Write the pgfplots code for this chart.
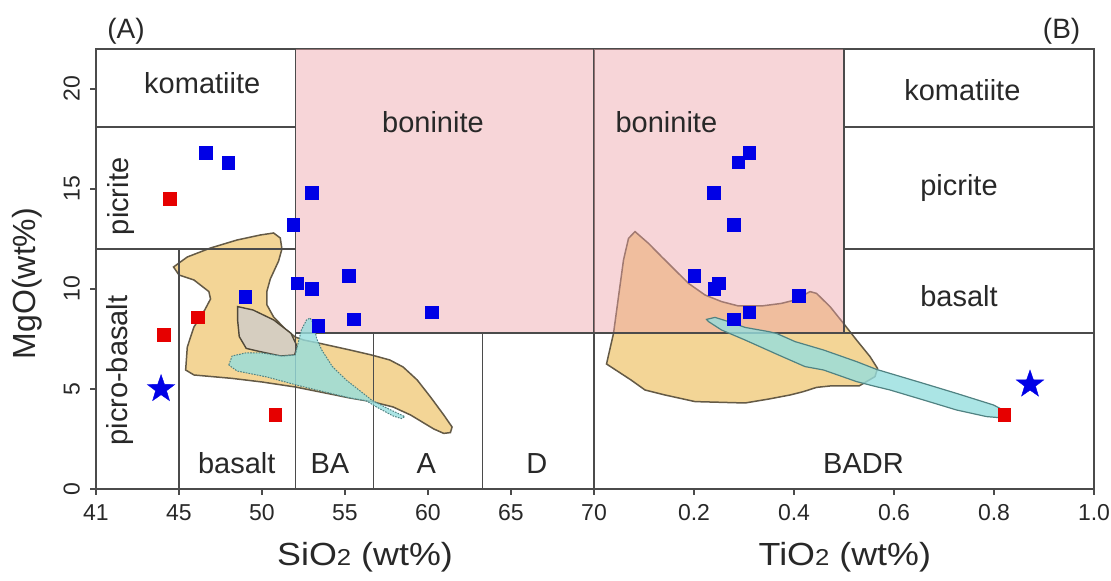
\documentclass[border=0pt]{standalone}
\usepackage{fontspec}
\setmainfont{Liberation Sans}
\usepackage{graphicx}
\usepackage{pgfplots}
\pgfplotsset{compat=1.18}
\definecolor{pinkb}{RGB}{237,162,168}
\definecolor{orf}{RGB}{243,213,150}
\definecolor{ore}{RGB}{100,90,70}
\definecolor{cyf}{RGB}{150,222,222}
\definecolor{cye}{RGB}{80,130,130}
\definecolor{grf}{RGB}{214,206,192}
\definecolor{mblue}{RGB}{0,0,230}
\definecolor{mred}{RGB}{230,0,0}
\definecolor{lin}{RGB}{75,75,75}
\definecolor{txt}{RGB}{40,40,40}

\pgfdeclareplotmark{fstar}{%
  \pgfpathmoveto{\pgfpointpolar{90}{\pgfplotmarksize}}%
  \pgfpathlineto{\pgfpointpolar{126}{0.4\pgfplotmarksize}}%
  \pgfpathlineto{\pgfpointpolar{162}{\pgfplotmarksize}}%
  \pgfpathlineto{\pgfpointpolar{198}{0.4\pgfplotmarksize}}%
  \pgfpathlineto{\pgfpointpolar{234}{\pgfplotmarksize}}%
  \pgfpathlineto{\pgfpointpolar{270}{0.4\pgfplotmarksize}}%
  \pgfpathlineto{\pgfpointpolar{306}{\pgfplotmarksize}}%
  \pgfpathlineto{\pgfpointpolar{342}{0.4\pgfplotmarksize}}%
  \pgfpathlineto{\pgfpointpolar{18}{\pgfplotmarksize}}%
  \pgfpathlineto{\pgfpointpolar{54}{0.4\pgfplotmarksize}}%
  \pgfpathclose
  \pgfusepathqfillstroke}

\tikzset{reg/.style={font=\fontsize{14.5}{16}\selectfont, text=txt, anchor=base}}
\pgfplotsset{
  panel/.style={scale only axis, height=220pt, ymin=0, ymax=22,
    axis line style={lin, line width=0.7pt},
    tick style={lin, line width=0.7pt},
    tick align=outside, major tick length=3pt,
    xtick pos=bottom,
    ticklabel style={font=\fontsize{11.5}{13}\selectfont, text=txt},
    xticklabel shift=1.2pt},
  regline/.style={lin, line width=0.7pt, no markers, forget plot},
  bsq/.style={only marks, mark=square*, mark size=3.1pt, mark options={fill=mblue, draw=mblue, line width=0pt}},
  rsq/.style={only marks, mark=square*, mark size=3.2pt, mark options={fill=mred, draw=mred, line width=0pt}},
  bstar/.style={only marks, mark=fstar, mark size=7.2pt, mark options={fill=mblue, draw=mblue, line width=0.2pt}},
}

\begin{document}
\begin{tikzpicture}
\useasboundingbox (0,0) rectangle (555.5pt,290.5pt);

% ---------------- (A) SiO2 panel ----------------
\begin{axis}[panel, at={(48pt,46pt)}, anchor=south west, width=249pt,
  xmin=40, xmax=70,
  xtick={40,45,50,55,60,65,70}, xticklabels={41,45,50,55,60,65,70},
  ytick={0,5,10,15,20}, yticklabels={0,5,10,15,20}, ytick pos=left,
  yticklabel style={rotate=90, anchor=south}, yticklabel shift=1.5pt]

% orange field
\addplot[fill=orf, draw=ore, line width=0.75pt] coordinates {
(44.67,11.1)(45.5,11.6)(46.9,12.05)(48.5,12.45)(49.9,12.7)(50.7,12.8)(51.1,12.55)
(51.2,12.0)(51.0,11.4)(50.5,10.5)(50.3,9.9)(50.3,9.2)(50.7,8.6)(51.4,8.0)(52.0,7.6)
(52.5,7.45)(53.5,7.28)(55.3,6.95)(56.6,6.7)(57.7,6.45)(58.5,6.1)(59.35,5.45)
(60.15,4.6)(60.95,3.7)(61.45,3.1)(61.35,2.82)(60.95,2.78)(60.35,3.0)(58.95,3.7)
(57.9,4.1)(56.6,4.37)(55.3,4.55)(53.5,4.85)(52.0,5.1)(50.0,5.35)(48.2,5.53)
(45.9,5.7)(45.4,5.95)(45.5,7.1)(45.9,8.1)(46.55,8.95)(46.9,9.5)(46.8,9.87)
(45.9,10.45)(45.0,10.7)(44.67,11.1)} -- cycle;

% grey field
\addplot[fill=grf, draw=ore!80!black, line width=0.7pt] coordinates {
(48.53,9.12)(49.46,8.95)(50.71,8.45)(51.75,7.78)(52.12,7.12)(51.96,6.7)(51.13,6.65)
(49.88,6.87)(49.05,7.03)(48.63,7.62)(48.53,8.45)} -- cycle;

% boninite field
\addplot[fill=pinkb, fill opacity=0.45, draw=none] coordinates {
(52,7.8)(70,7.8)(70,22)(52,22)} -- cycle;

% classification lines
\addplot[regline] coordinates {(52,0)(52,22)};
\addplot[regline] coordinates {(40,18.1)(52,18.1)};
\addplot[regline] coordinates {(40,12)(52,12)};
\addplot[regline] coordinates {(45,0)(45,12)};
\addplot[regline] coordinates {(52,7.8)(70,7.8)};
\addplot[regline] coordinates {(56.7,0)(56.7,7.8)};
\addplot[regline] coordinates {(63.3,0)(63.3,7.8)};

% samples
\addplot[bsq] coordinates {(46.62,16.8)(47.97,16.3)(53.0,14.8)(51.88,13.2)(55.24,10.65)
(52.13,10.28)(53.02,10.0)(48.99,9.6)(53.42,8.15)(55.55,8.48)(60.23,8.82)};
\addplot[rsq] coordinates {(44.48,14.5)(46.14,8.57)(44.12,7.7)(50.81,3.7)};

% cyan field
\addplot[fill=cyf, fill opacity=0.8, draw=cye, line width=0.5pt, dash pattern=on 0.8pt off 0.6pt] coordinates {
(48.0,6.2)(48.2,6.65)(49.0,6.8)(50.0,6.8)(51.2,6.65)(52.0,6.7)(52.37,7.95)(52.68,8.45)
(52.9,8.55)(53.1,8.28)(53.3,7.5)(53.6,6.95)(54.24,6.12)(55.07,5.45)(56.1,4.78)(56.6,4.45)
(57.56,4.03)(58.6,3.62)(58.4,3.52)(57.9,3.65)(56.9,4.1)(56.3,4.4)(55.3,4.55)(52.3,5.15)
(50.3,5.6)(48.5,5.9)(48.0,6.2)} -- cycle;

\addplot[bstar] coordinates {(43.92,5.0)};

\node[reg] at (axis cs:46.4,19.75) {komatiite};
\node[reg] at (axis cs:60.3,17.8) {boninite};
\node[reg, rotate=90] at (axis cs:41.98,14.63) {picrite};
\node[reg, rotate=90] at (axis cs:41.87,5.92) {picro-basalt};
\node[reg] at (axis cs:48.48,0.75) {basalt};
\node[reg] at (axis cs:54.09,0.75) {BA};
\node[reg] at (axis cs:59.9,0.75) {A};
\node[reg] at (axis cs:66.55,0.75) {D};
\end{axis}

% ---------------- (B) TiO2 panel ----------------
\begin{axis}[panel, at={(297pt,46pt)}, anchor=south west, width=250pt,
  xmin=0, xmax=1,
  xtick={0.2,0.4,0.6,0.8,1.0}, xticklabels={0.2,0.4,0.6,0.8,1.0},
  ytick=\empty]

\addplot[fill=orf, draw=ore, line width=0.75pt] coordinates {
(0.082,12.87)(0.109,12.28)(0.135,11.62)(0.162,10.95)(0.189,10.28)(0.222,9.7)(0.255,9.37)
(0.289,9.15)(0.335,9.15)(0.375,9.28)(0.402,9.45)(0.432,9.87)(0.445,9.78)(0.472,9.12)
(0.499,8.28)(0.525,7.45)(0.552,6.62)(0.567,6.03)(0.562,5.62)(0.53,5.15)(0.472,5.15)
(0.445,5.08)(0.419,4.87)(0.392,4.7)(0.35,4.5)(0.302,4.3)(0.202,4.37)(0.142,4.7)
(0.102,4.95)(0.074,5.45)(0.025,6.25)(0.039,7.78)(0.049,9.62)(0.059,11.45)(0.069,12.53)} -- cycle;

\addplot[fill=pinkb, fill opacity=0.45, draw=none] coordinates {
(0,7.8)(0.5,7.8)(0.5,22)(0,22)} -- cycle;

\addplot[regline] coordinates {(0.5,7.8)(0.5,22)};
\addplot[regline] coordinates {(0.5,18.1)(1,18.1)};
\addplot[regline] coordinates {(0.5,12)(1,12)};
\addplot[regline] coordinates {(0,7.8)(1,7.8)};

\addplot[bsq] coordinates {(0.311,16.8)(0.289,16.33)(0.240,14.8)(0.280,13.2)(0.201,10.65)
(0.250,10.28)(0.241,10.0)(0.410,9.65)(0.311,8.82)(0.280,8.48)};
\addplot[rsq] coordinates {(0.821,3.7)};

\addplot[fill=cyf, fill opacity=0.8, draw=cye, line width=0.6pt] coordinates {
(0.225,8.48)(0.242,8.58)(0.269,8.37)(0.302,8.08)(0.349,7.87)(0.365,7.78)(0.402,7.37)
(0.459,6.95)(0.525,6.37)(0.565,5.98)(0.659,5.28)(0.725,4.78)(0.799,4.2)(0.812,4.03)
(0.819,3.78)(0.809,3.57)(0.785,3.62)(0.725,3.95)(0.659,4.45)(0.592,4.95)(0.559,5.15)
(0.525,5.37)(0.459,5.95)(0.422,6.12)(0.369,6.7)(0.302,7.45)(0.255,7.95)(0.229,8.37)} -- cycle;

\addplot[bstar] coordinates {(0.872,5.23)};

\node[reg] at (axis cs:0.1447,17.82) {boninite};
\node[reg] at (axis cs:0.7367,19.43) {komatiite};
\node[reg] at (axis cs:0.730,14.66) {picrite};
\node[reg] at (axis cs:0.730,9.1) {basalt};
\node[reg] at (axis cs:0.539,0.77) {BADR};
\end{axis}

\node[anchor=base, font=\fontsize{14}{16}\selectfont, text=txt] at (63pt,271.3pt) {(A)};
\node[anchor=base, font=\fontsize{14}{16}\selectfont, text=txt] at (530.8pt,271.3pt) {(B)};
\node[anchor=base, font=\fontsize{16}{18}\selectfont, text=txt] at (182.5pt,7.5pt) {\scalebox{1.12}[1]{SiO{\fontsize{11.5}{12}\selectfont 2} (wt\%)}};
\node[anchor=base, font=\fontsize{16}{18}\selectfont, text=txt] at (422.4pt,7.5pt) {\scalebox{1.12}[1]{TiO{\fontsize{11.5}{12}\selectfont 2} (wt\%)}};
\node[anchor=base, rotate=90, font=\fontsize{16}{18}\selectfont, text=txt] at (17.5pt,148.75pt) {MgO(wt\%)};
\end{tikzpicture}
\end{document}
